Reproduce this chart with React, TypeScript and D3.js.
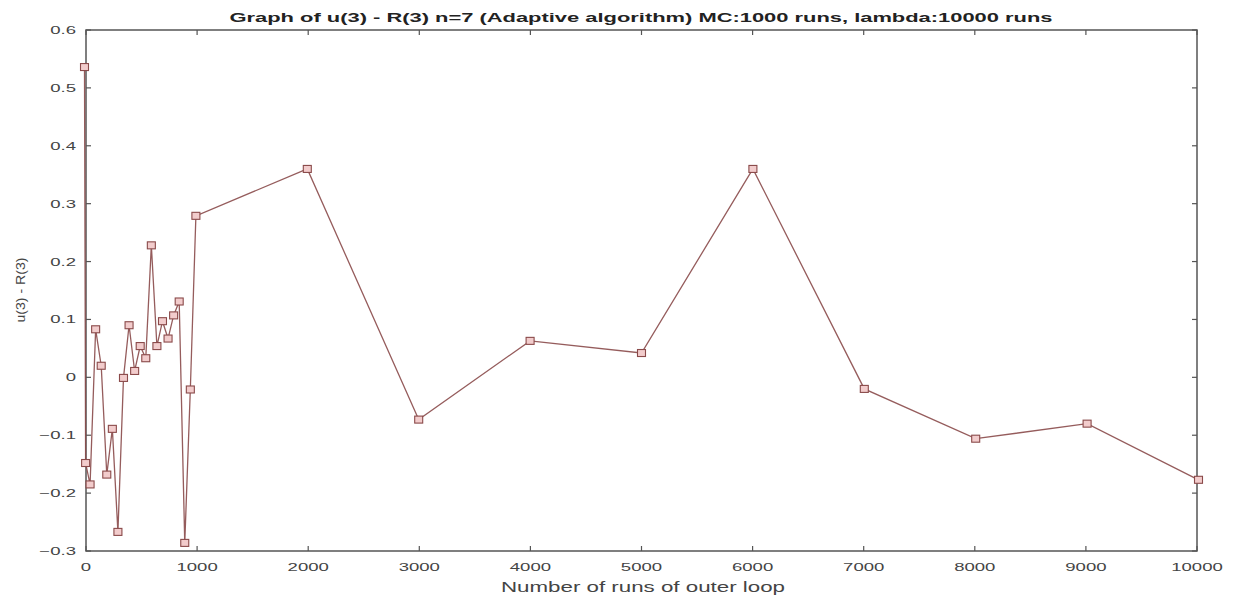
import React from "react";
import * as d3 from "d3";

const runs = [0, 10, 50, 100, 150, 200, 250, 300, 350, 400, 450, 500, 550, 600, 650, 700, 750, 800, 850, 900, 950, 1000, 2000, 3000, 4000, 5000, 6000, 7000, 8000, 9000, 10000];
const diffs = [0.536, -0.148, -0.185, 0.083, 0.02, -0.168, -0.089, -0.267, -0.001, 0.09, 0.011, 0.054, 0.033, 0.228, 0.054, 0.097, 0.067, 0.107, 0.131, -0.286, -0.021, 0.279, 0.36, -0.073, 0.063, 0.042, 0.36, -0.02, -0.106, -0.08, -0.177];
const xTicks = [0, 1000, 2000, 3000, 4000, 5000, 6000, 7000, 8000, 9000, 10000];
const yTicks = [-0.3, -0.2, -0.1, 0, 0.1, 0.2, 0.3, 0.4, 0.5, 0.6];
const title = "Graph of u(3) - R(3) n=7 (Adaptive algorithm) MC:1000 runs, lambda:10000 runs";
const xLabel = "Number of runs of outer loop";
const yLabel = "u(3) - R(3)";

export default function App() {
  const W = 1238, H = 599;
  const left = 86, right = 1197, top = 30, bottom = 551;
  const x = d3.scaleLinear().domain([0, 10000]).range([84.5, 1198.5]);
  const xa = d3.scaleLinear().domain([0, 10000]).range([left, right]);
  const y = d3.scaleLinear().domain([-0.3, 0.6]).range([bottom, top]);
  const pts = runs.map((r, i) => [x(r), y(diffs[i])] as [number, number]);
  const line = d3.line()(pts) || "";
  const axisColor = "#555";
  const font = "'Liberation Sans', Arial, Helvetica, sans-serif";
  const sx = 1.6;
  return (
    <svg width={W} height={H} style={{ position: "absolute", left: 0, top: 0, background: "#fff" }}>
      <rect x={0} y={0} width={W} height={H} fill="#fff" />
      <rect x={left} y={top} width={right - left} height={bottom - top} fill="none" stroke={axisColor} strokeWidth={1.5} />
      {xTicks.map((t) => (
        <g key={"xt" + t}>
          <line x1={xa(t)} x2={xa(t)} y1={bottom} y2={bottom - 5} stroke={axisColor} strokeWidth={1.2} />
          <line x1={xa(t)} x2={xa(t)} y1={top} y2={top + 5} stroke={axisColor} strokeWidth={1.2} />
          <text transform={`translate(${xa(t)},571) scale(${sx},1)`} textAnchor="middle" fontFamily={font} fontSize={11.6} fill="#444">{t}</text>
        </g>
      ))}
      {yTicks.map((t) => (
        <g key={"yt" + t}>
          <line x1={left} x2={left + 5} y1={y(t)} y2={y(t)} stroke={axisColor} strokeWidth={1.2} />
          <line x1={right} x2={right - 5} y1={y(t)} y2={y(t)} stroke={axisColor} strokeWidth={1.2} />
          <text transform={`translate(76,${y(t) + 4}) scale(${sx},1)`} textAnchor="end" fontFamily={font} fontSize={11.6} fill="#444">{d3.format("")(+t.toFixed(1))}</text>
        </g>
      ))}
      <path d={line} fill="none" stroke="#8a4a4a" strokeWidth={1.3} strokeOpacity={0.9} />
      {pts.map((p, i) => (
        <rect key={"m" + i} x={p[0] - 4} y={p[1] - 3.5} width={8} height={7} fill="#f2cccc" stroke="#8a4a4a" strokeWidth={1.1} />
      ))}
      <text x={641} y={22} textAnchor="middle" fontFamily={font} fontWeight="bold" fontSize={13} fill="#222" textLength={823} lengthAdjust="spacingAndGlyphs">{title}</text>
      <text x={643} y={592} textAnchor="middle" fontFamily={font} fontSize={14} fill="#444" textLength={284} lengthAdjust="spacingAndGlyphs">{xLabel}</text>
      <text transform={`translate(25,290) rotate(-90)`} textAnchor="middle" fontFamily={font} fontSize={13} fill="#444" textLength={65} lengthAdjust="spacingAndGlyphs">{yLabel}</text>
    </svg>
  );
}
